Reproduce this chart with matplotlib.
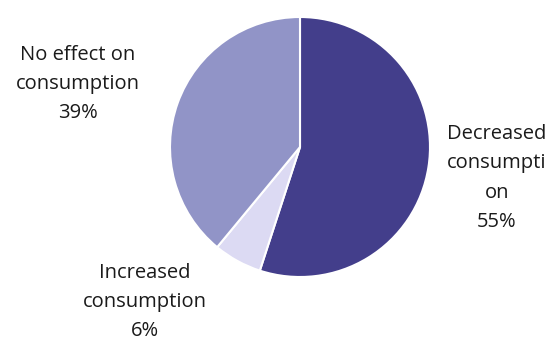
import matplotlib
matplotlib.use("Agg")
import matplotlib.pyplot as plt

labels = ["Decreased\nconsumpti\non", "Increased\nconsumption", "No effect on\nconsumption"]
values = [55, 6, 39]
colors = ["#433E8B", "#DCDAF3", "#9194C7"]

W, H = 555, 343
fig = plt.figure(figsize=(W / 100, H / 100), dpi=100)
ax = fig.add_axes([0, 0, 1, 1])

cx, cy, r = 300, H - 147, 130
ax.pie(values, colors=colors, startangle=90, counterclock=False,
       center=(cx, cy), radius=r, frame=True,
       wedgeprops=dict(edgecolor="white", linewidth=1.5))
ax.set_xlim(0, W)
ax.set_ylim(0, H)
ax.set_aspect("equal")
ax.axis("off")

label_pos = [(497, H - 178), (145, H - 302), (78, H - 84)]
for lab, v, (x, y) in zip(labels, values, label_pos):
    ax.text(x, y, f"{lab}\n{v}%", ha="center", va="center",
            fontsize=14.5, family=["Open Sans", "DejaVu Sans"],
            color="#1a1a1a", linespacing=1.62)

fig.savefig("out.png", dpi=100)
